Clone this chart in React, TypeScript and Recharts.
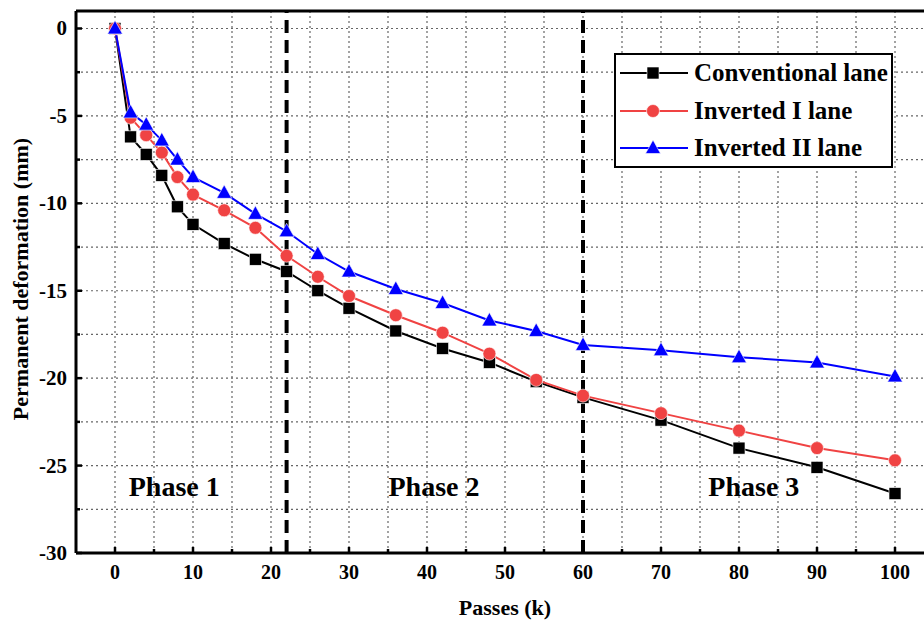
import React from 'react';
import {
  LineChart, Line, XAxis, YAxis, CartesianGrid, ReferenceLine, ReferenceDot,
} from 'recharts';

const passes = [0, 2, 4, 6, 8, 10, 14, 18, 22, 26, 30, 36, 42, 48, 54, 60, 70, 80, 90, 100];
const conventional = [0, -6.2, -7.2, -8.4, -10.2, -11.2, -12.3, -13.2, -13.9, -15.0, -16.0, -17.3, -18.3, -19.1, -20.2, -21.1, -22.4, -24.0, -25.1, -26.6];
const invertedI = [0, -5.1, -6.1, -7.1, -8.5, -9.5, -10.4, -11.4, -13.0, -14.2, -15.3, -16.4, -17.4, -18.6, -20.1, -21.0, -22.0, -23.0, -24.0, -24.7];
const invertedII = [0, -4.8, -5.5, -6.4, -7.5, -8.5, -9.4, -10.6, -11.6, -12.9, -13.9, -14.9, -15.7, -16.7, -17.3, -18.1, -18.4, -18.8, -19.1, -19.9];

const xTicks = [0, 5, 10, 15, 20, 25, 30, 35, 40, 45, 50, 55, 60, 65, 70, 75, 80, 85, 90, 95, 100, 105];
const yTicks = [-30, -27.5, -25, -22.5, -20, -17.5, -15, -12.5, -10, -7.5, -5, -2.5, 0];
const phaseBounds = [22, 60];
const phaseNames = ['Phase 1', 'Phase 2', 'Phase 3'];
const phaseX = [7.6, 40.9, 81.9];
const phaseY = -26.2;

const data = passes.map((p, i) => ({
  passes: p,
  conventional: conventional[i],
  invertedI: invertedI[i],
  invertedII: invertedII[i],
}));

const FONT = '"Liberation Serif", "Times New Roman", serif';
const RED = '#f04343';
const BLUE = '#0000ff';

const series = [
  { key: 'conventional', name: 'Conventional lane', color: '#000000', shape: 'square' },
  { key: 'invertedI', name: 'Inverted I lane', color: RED, shape: 'circle' },
  { key: 'invertedII', name: 'Inverted II lane', color: BLUE, shape: 'triangle' },
];

function Marker({ shape, color, cx, cy }: { shape: string; color: string; cx: number; cy: number }) {
  if (shape === 'square') return <rect x={cx - 6} y={cy - 6} width={12} height={12} fill={color} stroke="#fff" strokeWidth={0.6} />;
  if (shape === 'circle') return <circle cx={cx} cy={cy} r={6.5} fill={color} stroke="#fff" strokeWidth={0.6} />;
  return <polygon points={`${cx},${cy - 8} ${cx + 7.5},${cy + 5.5} ${cx - 7.5},${cy + 5.5}`} fill={color} stroke="#fff" strokeWidth={0.6} />;
}

function XTick({ x, y, payload }: any) {
  const v = payload.value;
  const major = v % 10 === 0;
  if (v > 100) return null;
  return (
    <g>
      <line x1={x} x2={x} y1={y} y2={y - (major ? 6 : 4)} stroke="#000" strokeWidth={2.5} />
      {major && (
        <text x={x} y={y + 26} textAnchor="middle" fontFamily={FONT} fontWeight="bold" fontSize={20} fill="#000">{v}</text>
      )}
    </g>
  );
}

function YTick({ x, y, payload }: any) {
  const v = payload.value;
  const major = v % 5 === 0;
  return (
    <g>
      <line x1={x} x2={x + (major ? 6 : 4)} y1={y} y2={y} stroke="#000" strokeWidth={2.5} />
      {major && (
        <text x={x - 9} y={y + 7} textAnchor="end" fontFamily={FONT} fontWeight="bold" fontSize={21} fill="#000">{v}</text>
      )}
    </g>
  );
}

function LegendBox() {
  return (
    <div style={{
      position: 'absolute', left: 614, top: 53, width: 275, height: 111,
      border: '2px solid #000', background: '#fff', fontFamily: FONT,
      fontWeight: 'bold', fontSize: 25, boxSizing: 'content-box',
    }}>
      {series.map((s, i) => (
        <div key={s.key} style={{ position: 'absolute', left: 0, top: 18 + i * 37.5 - 15, height: 30, display: 'flex', alignItems: 'center' }}>
          <svg width={76} height={30} style={{ display: 'block' }}>
            <line x1={4} x2={72} y1={15} y2={15} stroke={s.color} strokeWidth={2} />
            <Marker shape={s.shape} color={s.color} cx={37} cy={15} />
          </svg>
          <span style={{ marginLeft: 2, lineHeight: '30px', whiteSpace: 'nowrap' }}>{s.name}</span>
        </div>
      ))}
    </div>
  );
}

export default function App() {
  return (
    <div style={{ position: 'absolute', left: 0, top: 0, width: 924, height: 620, overflow: 'hidden', background: '#fff' }}>
      <LineChart width={960} height={620} data={data} margin={{ top: 11, right: 26, left: 0, bottom: 0 }}>
        <CartesianGrid stroke="#666" strokeDasharray="2 3" strokeWidth={1.2} />
        <XAxis
          type="number"
          dataKey="passes"
          domain={[-5, 105]}
          ticks={xTicks}
          height={67}
          interval={0}
          tickSize={0}
          tickMargin={0}
          tickLine={false}
          axisLine={{ stroke: '#000', strokeWidth: 3 }}
          tick={<XTick />}
          allowDataOverflow
          label={{
            content: () => (
              <text x={505} y={615} textAnchor="middle" fontFamily={FONT} fontWeight="bold" fontSize={22} fill="#000">Passes (k)</text>
            ),
          }}
        />
        <YAxis
          type="number"
          domain={[-30, 1]}
          ticks={yTicks}
          width={76}
          interval={0}
          tickSize={0}
          tickMargin={0}
          tickLine={false}
          axisLine={{ stroke: '#000', strokeWidth: 3 }}
          tick={<YTick />}
          allowDataOverflow
          label={{
            content: () => (
              <text x={28} y={279} transform="rotate(-90 28 279)" textAnchor="middle" fontFamily={FONT} fontWeight="bold" fontSize={22} fill="#000">Permanent deformation (mm)</text>
            ),
          }}
        />
        <ReferenceLine y={1} stroke="#000" strokeWidth={3} />
        {phaseBounds.map((b) => (
          <ReferenceLine key={b} x={b} stroke="#000" strokeWidth={4} strokeDasharray="13 7" />
        ))}
        {phaseNames.map((name, i) => (
          <ReferenceDot
            key={name}
            x={phaseX[i]}
            y={phaseY}
            r={0}
            shape={(p: any) => (
              <text x={p.cx} y={p.cy + 9} textAnchor="middle" fontFamily={FONT} fontWeight="bold" fontSize={28} fill="#000">{name}</text>
            )}
          />
        ))}
        {series.map((s) => (
          <Line
            key={s.key}
            type="linear"
            dataKey={s.key}
            name={s.name}
            stroke={s.color}
            strokeWidth={2}
            isAnimationActive={false}
            dot={(p: any) => <Marker key={`${s.key}-${p.index}`} shape={s.shape} color={s.color} cx={p.cx} cy={p.cy} />}
            activeDot={false}
          />
        ))}
      </LineChart>
      <LegendBox />
    </div>
  );
}
